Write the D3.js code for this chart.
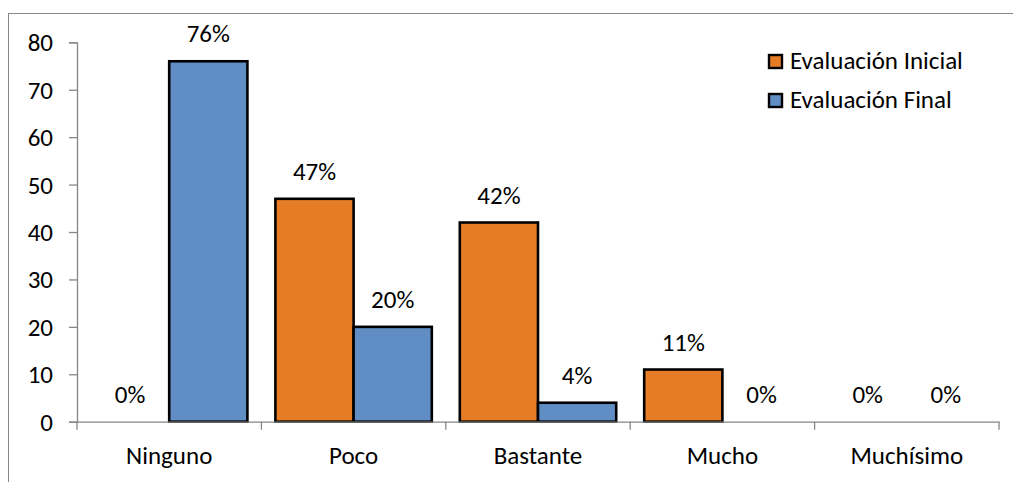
<!DOCTYPE html>
<html>
<head>
<meta charset="utf-8">
<script src="https://cdn.jsdelivr.net/npm/d3@7"></script>
<style>
  html, body { margin: 0; padding: 0; background: #fff; }
  svg text { font-family: Carlito, Lato, "Open Sans", sans-serif; fill: #000; }
</style>
</head>
<body>
<svg id="chart" width="1013" height="482"></svg>
<script>
// Categories and series (percent of respondents)
const categories = ["Ninguno", "Poco", "Bastante", "Mucho", "Muchísimo"];
const seriesNames = ["Evaluación Inicial", "Evaluación Final"];
const inicial = [0, 47, 42, 11, 0];
const final = [76, 20, 4, 0, 0];
const yTicks = [0, 10, 20, 30, 40, 50, 60, 70, 80];
const colors = ["#E67C25", "#5F8DC4"];

const svg = d3.select("#chart");
const W = 1013, H = 482;

// outer frame (open on the right and bottom)
svg.append("rect")
  .attr("x", 8.5).attr("y", 13.5)
  .attr("width", W + 10).attr("height", H + 10)
  .attr("fill", "none").attr("stroke", "#888").attr("stroke-width", 1);

const plot = { left: 77, right: 999, top: 42.3, bottom: 421.7 };

const x = d3.scaleBand().domain(categories)
  .range([plot.left, plot.right]).paddingInner(0).paddingOuter(0);
const xs = d3.scaleBand().domain(seriesNames)
  .range([0, x.bandwidth()]).paddingOuter(0.179).paddingInner(0);
const y = d3.scaleLinear().domain([0, 80]).range([plot.bottom, plot.top]);

const fontSize = 25;

// y axis
const yAxis = d3.axisLeft(y).tickValues(yTicks).tickSize(8).tickPadding(16);
const gy = svg.append("g").attr("transform", `translate(${plot.left},0)`).call(yAxis);
gy.select(".domain").attr("stroke", "#868686").attr("stroke-width", 1.3);
gy.selectAll(".tick line").attr("stroke", "#868686").attr("stroke-width", 1.3);
gy.selectAll(".tick text").style("font-size", fontSize + "px").attr("fill", "#000").attr("dy", "0.34em");

const data = categories.map((c, i) => ({ cat: c, vals: [inicial[i], final[i]] }));

// bars
const groups = svg.append("g").selectAll("g").data(data).join("g")
  .attr("transform", d => `translate(${x(d.cat)},0)`);

groups.selectAll("rect")
  .data(d => d.vals.map((v, k) => ({ v, k })).filter(e => e.v > 0))
  .join("rect")
  .attr("x", e => xs(seriesNames[e.k]))
  .attr("y", e => y(e.v))
  .attr("width", xs.bandwidth())
  .attr("height", e => y(0) - y(e.v))
  .attr("fill", e => colors[e.k])
  .attr("stroke", "#000").attr("stroke-width", 2.6);

// value labels
groups.selectAll("text.val")
  .data(d => d.vals.map((v, k) => ({ v, k })))
  .join("text").attr("class", "val")
  .attr("x", e => xs(seriesNames[e.k]) + xs.bandwidth() / 2)
  .attr("y", e => y(e.v) - 19)
  .attr("text-anchor", "middle")
  .style("font-size", fontSize + "px")
  .text(e => e.v + "%");

// x axis (drawn after bars so baseline sits on top)
const xAxis = d3.axisBottom(x).tickSize(0).tickPadding(0);
const gx = svg.append("g").attr("transform", `translate(0,${plot.bottom})`).call(xAxis);
gx.select(".domain").attr("stroke", "#868686").attr("stroke-width", 1.3);
gx.selectAll(".tick text").style("font-size", fontSize + "px").attr("fill", "#000")
  .attr("y", 42).attr("dy", null);
// category boundary ticks
const bounds = categories.map(c => x(c)).concat([plot.right]);
gx.selectAll("line.bound").data(bounds).join("line").attr("class", "bound")
  .attr("x1", d => d).attr("x2", d => d).attr("y1", 0).attr("y2", 8)
  .attr("stroke", "#868686").attr("stroke-width", 1.3);

// legend
const legend = svg.append("g").attr("transform", "translate(769,55)");
seriesNames.forEach((name, i) => {
  const g = legend.append("g").attr("transform", `translate(0,${i * 39})`);
  g.append("rect").attr("x", 0).attr("y", 0).attr("width", 13).attr("height", 13)
    .attr("fill", colors[i]).attr("stroke", "#000").attr("stroke-width", 2.4);
  g.append("text").attr("x", 21).attr("y", 14)
    .style("font-size", fontSize + "px").text(name);
});
</script>
</body>
</html>
